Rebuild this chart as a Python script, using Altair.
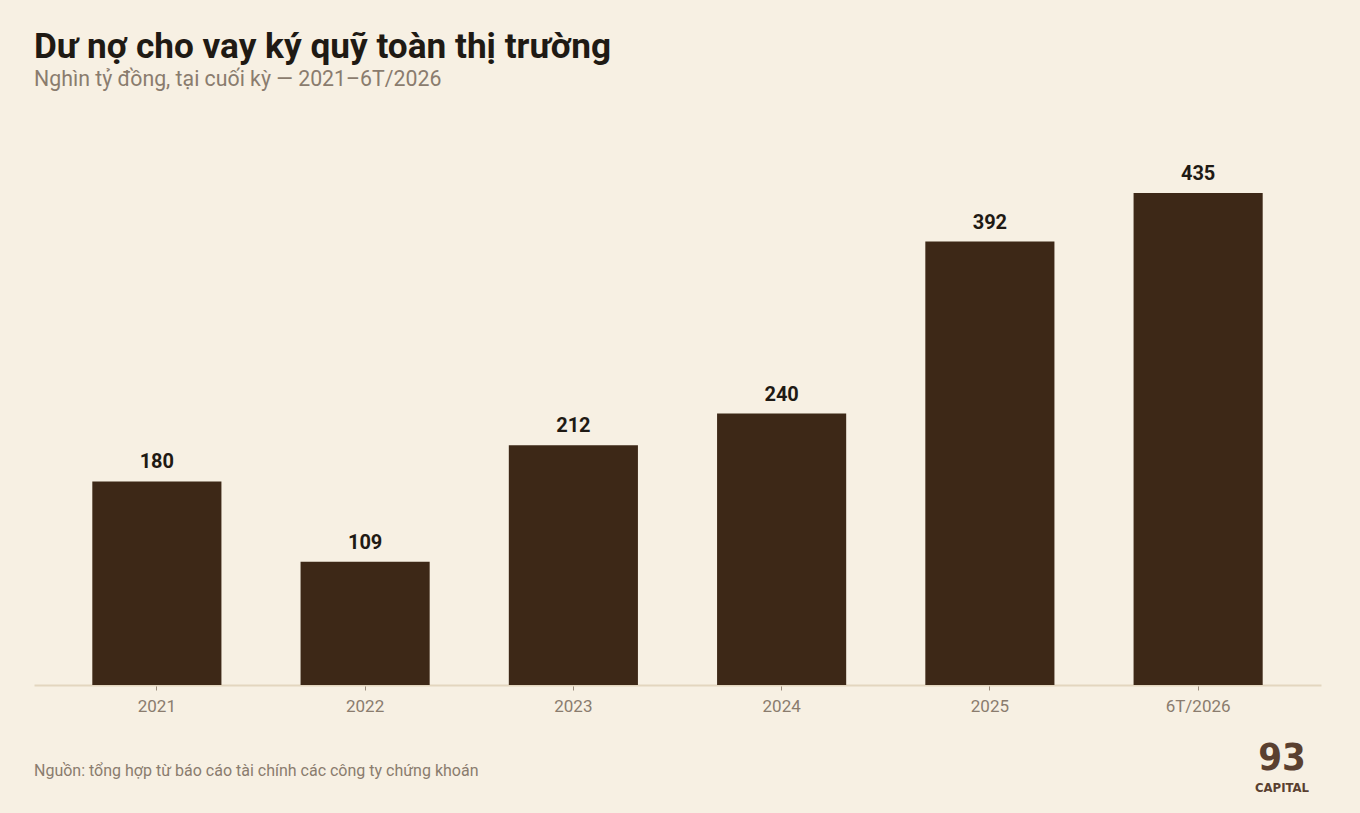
import altair as alt
import pandas as pd
import jinja2
from altair.utils.html import HTML_TEMPLATE

categories = ["2021", "2022", "2023", "2024", "2025", "6T/2026"]
values = [180, 109, 212, 240, 392, 435]

df = pd.DataFrame({"period": categories, "value": values})

BG = "#f7f0e3"
BAR = "#3d2817"

x_enc = alt.X("period:N", sort=categories, title=None,
              scale=alt.Scale(paddingInner=0.38, paddingOuter=0.28),
              axis=alt.Axis(labelAngle=0, labelFont="Roboto", labelFontSize=17,
                            labelColor="#8a7c6e", labelPadding=8,
                            domainColor="#e3d6bf", domainWidth=2,
                            tickColor="#9a8c7c", tickSize=5, tickWidth=1))
y_enc = alt.Y("value:Q", title=None, scale=alt.Scale(domain=[0, 480], nice=False), axis=None)

bars = alt.Chart(df).mark_bar(color=BAR).encode(x=x_enc, y=y_enc)

labels = alt.Chart(df).mark_text(
    font="Roboto", fontSize=20, fontWeight="bold", color="#1f1a14",
    baseline="alphabetic", dy=-13
).encode(x=alt.X("period:N", sort=categories), y="value:Q", text="value:Q")

source = alt.Chart(pd.DataFrame({"t": ["Nguồn: tổng hợp từ báo cáo tài chính các công ty chứng khoán"]})).mark_text(
    font="Roboto", fontSize=16, color="#8a7c6e", align="left", baseline="alphabetic"
).encode(x=alt.value(0), y=alt.value(634), text="t:N")

logo_num = alt.Chart(pd.DataFrame({"t": ["93"]})).mark_text(
    font="DejaVu Sans Condensed", fontSize=38, fontWeight="bold", color="#5a4030",
    align="center", baseline="alphabetic"
).encode(x=alt.value(1248), y=alt.value(628), text="t:N")

logo_cap = alt.Chart(pd.DataFrame({"t": ["CAPITAL"]})).mark_text(
    font="DejaVu Sans Condensed", fontSize=13, fontWeight="bold", color="#5a4030",
    align="center", baseline="alphabetic"
).encode(x=alt.value(1248), y=alt.value(650), text="t:N")

chart = alt.layer(bars, labels, source, logo_num, logo_cap).properties(
    width=1287, height=543,
    autosize=alt.AutoSizeParams(type="none"),
    padding={"left": 26, "top": 134, "right": 31, "bottom": 128},
    background=BG,
    title=alt.TitleParams(
        text="Dư nợ cho vay ký quỹ toàn thị trường",
        subtitle="Nghìn tỷ đồng, tại cuối kỳ — 2021–6T/2026",
        anchor="start", frame="group", offset=52,
        font="Roboto", fontSize=35.2, fontWeight="bold", color="#1f1a14",
        subtitleFont="Roboto", subtitleFontSize=21.3, subtitleColor="#8a7c6e",
        subtitlePadding=4,
    ),
).configure_view(stroke=None)

page_template = jinja2.Template("")
page_template.render = lambda *a, **k: HTML_TEMPLATE.render(*a, **k).replace(
    "<body>", '<body style="background:%s">' % BG, 1)

chart.save("out.html", embed_options={"renderer": "svg", "actions": False},
           template=page_template)
